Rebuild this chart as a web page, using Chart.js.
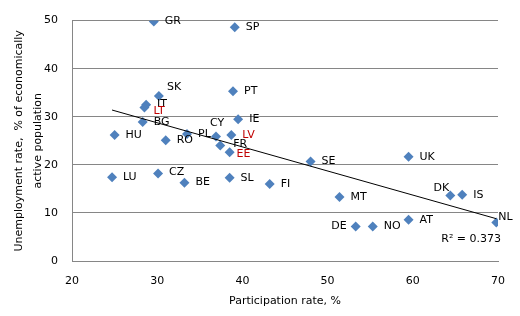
<!DOCTYPE html>
<html>
<head>
<meta charset="utf-8">
<script src="https://cdn.jsdelivr.net/npm/chart.js@4.4.1/dist/chart.umd.min.js"></script>
<style>
html,body{margin:0;padding:0;background:#fff;}
#wrap{width:520px;height:316px;position:relative;}
</style>
</head>
<body>
<div id="wrap"><canvas id="c" width="520" height="316"></canvas></div>
<script>
// ---- data ----
const countries     = ['GR','SP','SK','PT','IT','LT','BG','HU','RO','PL','CY','LV','IE','FR','EE','LU','CZ','BE','SL','FI','SE','UK','MT','DK','IS','AT','DE','NO','NL'];
const participation = [29.6,39.1,30.2,38.9,28.7,28.5,28.3,25.0,31.0,33.5,36.9,38.7,39.5,37.4,38.5,24.7,30.1,33.2,38.5,43.2,48.0,59.5,51.4,64.4,65.8,59.5,53.3,55.3,69.8];
const unemployment  = [49.8,48.6,34.3,35.3,32.5,31.9,28.9,26.2,25.1,26.4,25.9,26.2,29.5,24.0,22.6,17.4,18.2,16.3,17.3,16.0,20.7,21.7,13.3,13.6,13.8,8.6,7.2,7.2,8.0];
const highlighted   = ['LT','LV','EE'];
const trendX        = [24.7, 69.8];
const trendY        = [31.4, 8.8];
const rSquaredText  = 'R² = 0.373';
const xTickRange    = [20, 70, 10];
const yTickRange    = [0, 50, 10];
const xTitle        = 'Participation rate, %';
const yTitle        = ['Unemployment rate,  % of economically', 'active population'];

const FONT = 'DejaVu Sans';

// label placement relative to each marker (pixels)
const labelPos = {
  SK:[8,-9], IT:[11,-1], LT:[9,4], CY:[-6,-13,'left'], FR:[13,-1], EE:[7,2],
  CZ:[11,-1], DK:[-1,-7,'right'], DE:[-9,0,'right'], NL:[2,-5]
};

const labelPlugin = {
  id:'labels',
  afterDatasetsDraw(chart){
    const ctx = chart.ctx, xs = chart.scales.x, ys = chart.scales.y;
    ctx.save();
    ctx.font = '11px "' + FONT + '"';
    ctx.textBaseline = 'middle';
    countries.forEach((c,i)=>{
      const px = xs.getPixelForValue(participation[i]);
      const py = ys.getPixelForValue(unemployment[i]);
      const p = labelPos[c] || [11,0];
      ctx.textAlign = p[2] || 'left';
      ctx.fillStyle = highlighted.includes(c) ? '#c00000' : '#000000';
      ctx.fillText(c, px + p[0], py + p[1]);
    });
    ctx.fillStyle = '#000';
    ctx.textAlign = 'right';
    ctx.fillText(rSquaredText, chart.chartArea.right + 3, chart.chartArea.bottom - 22);
    ctx.restore();
  }
};

new Chart(document.getElementById('c'), {
  type:'scatter',
  data:{
    datasets:[
      {
        label:'trend',
        type:'line',
        data: trendX.map((x,i)=>({x:x, y:trendY[i]})),
        borderColor:'#000',
        borderWidth:1,
        pointRadius:0,
        fill:false,
        order:0
      },
      {
        label:'countries',
        data: participation.map((x,i)=>({x:x, y:unemployment[i]})),
        pointStyle:'rectRot',
        pointRadius:5,
        pointHoverRadius:5,
        backgroundColor:'#4f81bd',
        borderColor:'#4f81bd',
        borderWidth:0,
        order:1
      }
    ]
  },
  options:{
    responsive:false,
    animation:false,
    events:[],
    layout:{padding:{top:15,right:22,left:10,bottom:8}},
    plugins:{legend:{display:false}, tooltip:{enabled:false}},
    scales:{
      x:{
        type:'linear',
        min:xTickRange[0], max:xTickRange[1],
        ticks:{stepSize:xTickRange[2], color:'#000', font:{family:FONT,size:11}, padding:14, maxRotation:0},
        grid:{display:false, drawTicks:false},
        border:{display:true, color:'#868686', width:1},
        title:{display:true, text:xTitle, color:'#000', font:{family:FONT,size:11}, padding:{top:4,bottom:0}},
        afterFit(s){ s.height = 47; }
      },
      y:{
        type:'linear',
        min:yTickRange[0], max:yTickRange[1],
        ticks:{stepSize:yTickRange[2], color:'#000', font:{family:FONT,size:11}, padding:14},
        grid:{color:'#868686', drawTicks:false, lineWidth:1},
        border:{display:true, color:'#868686', width:1},
        title:{display:true, text:yTitle, color:'#000', font:{family:FONT,size:11,lineHeight:1.7}, padding:{top:0,bottom:0}},
        afterFit(s){ s.width = 62; }
      }
    }
  },
  plugins:[labelPlugin]
});
</script>
</body>
</html>
